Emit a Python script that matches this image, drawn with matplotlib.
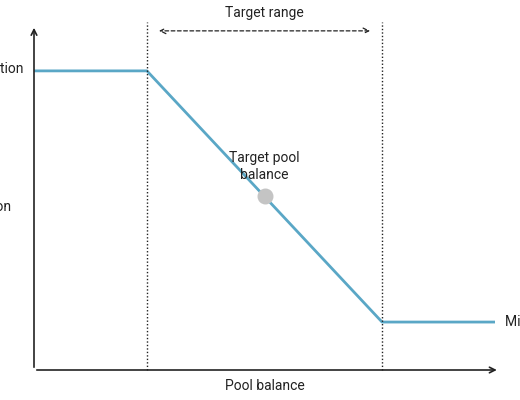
import matplotlib
matplotlib.use("Agg")
import matplotlib.pyplot as plt

plt.rcParams['font.family'] = ['Roboto', 'DejaVu Sans']

balance = [0, 24.5, 75.5, 100]
contribution = [86.7, 86.7, 13.9, 13.9]
target_x, target_y = 50, 50.3
range_lo, range_hi = 24.5, 75.5

W, H = 520, 400
fig = plt.figure(figsize=(W/100, H/100), dpi=100)
ax = fig.add_axes([34/W, 30/H, 461/W, 345/H])
ax.set_xlim(0, 100)
ax.set_ylim(0, 100)
ax.axis('off')

col = '#5aa7c6'
ax.plot(balance, contribution, color=col, lw=2, solid_capstyle='butt', clip_on=False)
ax.scatter([target_x], [target_y], s=110, color='#c4c4c4', zorder=5, clip_on=False)

for xv in (range_lo, range_hi):
    ax.plot([xv, xv], [0, 101], color='#222', lw=1, ls=(0, (1, 1.5)), clip_on=False)

ax.annotate('', xy=(0, 100), xytext=(0, 0), arrowprops=dict(arrowstyle='->', lw=1.2, color='#222'), annotation_clip=False)
ax.annotate('', xy=(101, 0), xytext=(0, 0), arrowprops=dict(arrowstyle='->', lw=1.2, color='#222'), annotation_clip=False)

ax.annotate('', xy=(range_lo + 2, 98.3), xytext=(range_hi - 2, 98.3),
            arrowprops=dict(arrowstyle='<->', lw=0.9, ls=(0, (3, 2)), color='#222'), annotation_clip=False)
ax.text(50, 103.5, 'Target range', ha='center', va='center', fontsize=10, color='#222', clip_on=False)

ax.text(50, -4.6, 'Pool balance', ha='center', va='center', fontsize=10, color='#222')
ax.text(50, 59, 'Target pool\nbalance', ha='center', va='center', fontsize=10, color='#222', linespacing=1.2)

ax.text(-2.3, contribution[0] + 0.6, 'Max contribution', ha='right', va='center', fontsize=10, color='#222')
ax.text(-4.8, 47.2, 'Contribution', ha='right', va='center', fontsize=10, color='#222')
ax.text(102.2, contribution[-1], 'Min contribution', ha='left', va='center', fontsize=10, color='#222')

fig.savefig('out.png', dpi=100)
